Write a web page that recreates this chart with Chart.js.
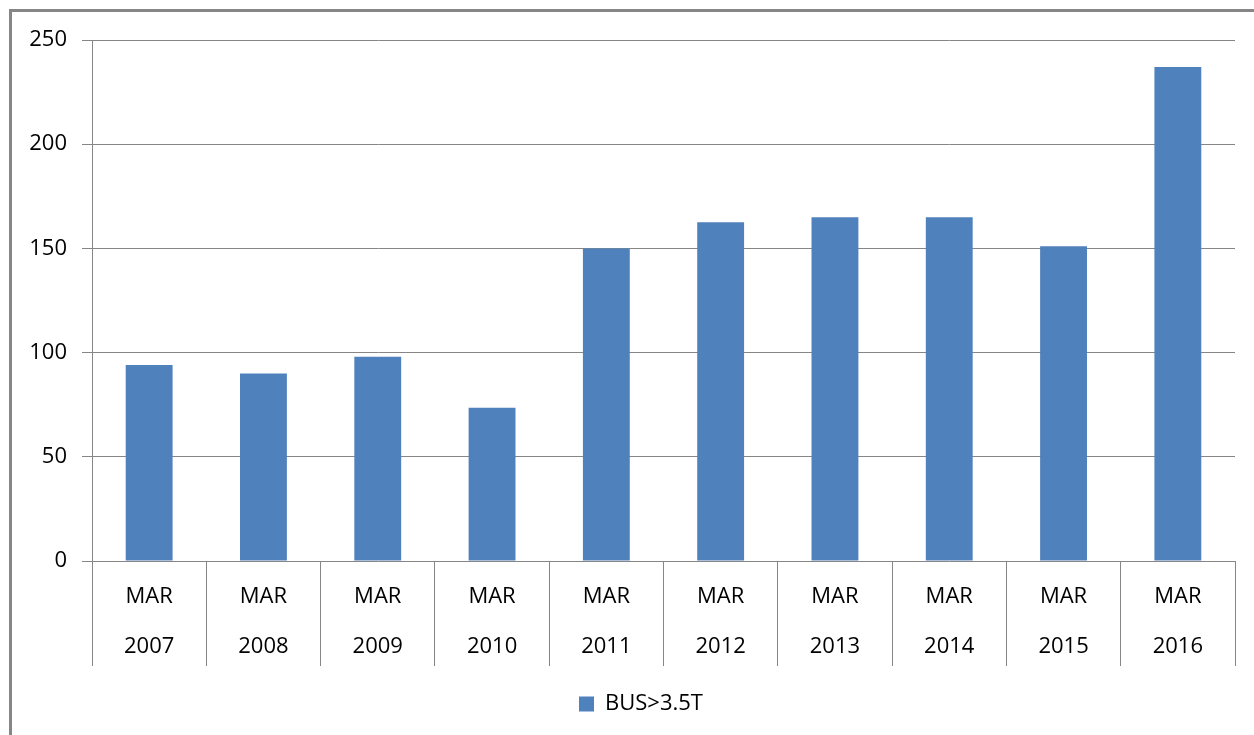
<!DOCTYPE html>
<html>
<head>
<meta charset="utf-8">
<script src="https://cdn.jsdelivr.net/npm/chart.js@4/dist/chart.umd.min.js"></script>
<style>
  html, body { margin: 0; padding: 0; background: #fff; }
  #wrap { width: 1254px; height: 735px; }
</style>
</head>
<body>
<div id="wrap"><canvas id="myChart" width="1254" height="735"></canvas></div>
<script>
const months = ["MAR", "MAR", "MAR", "MAR", "MAR", "MAR", "MAR", "MAR", "MAR", "MAR"];
const years = ["2007", "2008", "2009", "2010", "2011", "2012", "2013", "2014", "2015", "2016"];
const busValues = [94, 90, 98, 73.5, 150, 162.5, 165, 165, 151, 237];
const yTicks = [0, 50, 100, 150, 200, 250];

const gray = "#868686";

// outer frame of the chart object, and legend nudged right like excel
const framePlugin = {
  id: "frame",
  afterLayout(chart) {
    if (chart.legend) chart.legend.left = 47;
  },
  beforeDraw(chart) {
    const c = chart.ctx;
    c.save();
    c.fillStyle = "#fff";
    c.fillRect(0, 0, chart.width, chart.height);
    c.strokeStyle = gray;
    c.lineWidth = 3;
    c.strokeRect(10.5, 10.5, chart.width + 20, chart.height + 20);
    c.restore();
  },
};

const ctx = document.getElementById("myChart");

new Chart(ctx, {
  type: "bar",
  data: {
    labels: months.map((m, i) => [m, years[i]]),
    datasets: [
      {
        label: "BUS>3.5T",
        data: busValues,
        backgroundColor: "#4F81BD",
        borderWidth: 0,
        barPercentage: 0.41,
        categoryPercentage: 1,
      },
    ],
  },
  options: {
    responsive: false,
    animation: false,
    devicePixelRatio: 1,
    layout: { padding: { left: 0, right: 19, top: 40, bottom: 10 } },
    scales: {
      x: {
        offset: true,
        grid: {
          offset: true,
          drawOnChartArea: false,
          color: gray,
          lineWidth: 1,
          tickLength: 105,
        },
        border: { display: false },
        ticks: {
          color: "#000",
          padding: -94,
          maxRotation: 0,
          autoSkip: false,
          font: { family: "Open Sans", size: 22, lineHeight: "50px" },
        },
        afterFit(scale) {
          scale.height = 122;
        },
      },
      y: {
        min: 0,
        max: 250,
        afterBuildTicks(scale) {
          scale.ticks = yTicks.map((v) => ({ value: v }));
        },
        grid: { color: gray, lineWidth: 1, tickLength: 10 },
        border: { color: gray, width: 1 },
        ticks: {
          color: "#000",
          padding: 15,
          font: { family: "Open Sans", size: 22 },
        },
        afterFit(scale) {
          scale.width = 92;
        },
      },
    },
    plugins: {
      legend: {
        position: "bottom",
        labels: {
          color: "#000",
          boxWidth: 15,
          boxHeight: 15,
          padding: 10,
          font: { family: "Open Sans", size: 22 },
        },
      },
      tooltip: { enabled: false },
    },
  },
  plugins: [framePlugin],
});
</script>
</body>
</html>
